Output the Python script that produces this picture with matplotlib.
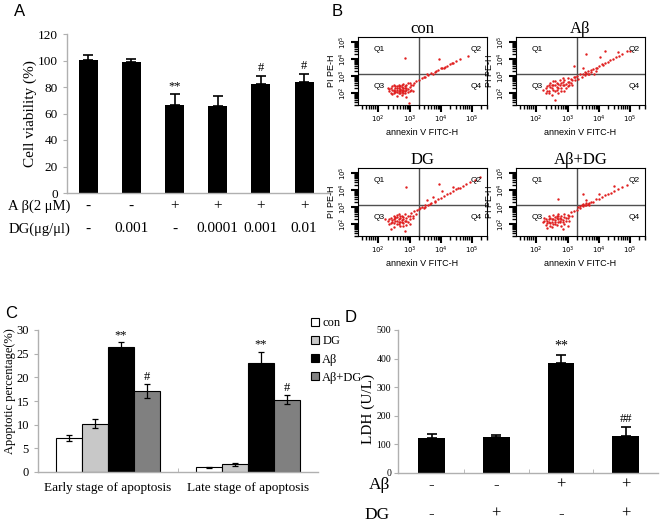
import numpy as np
import matplotlib
matplotlib.use("Agg")
import matplotlib.pyplot as plt
from matplotlib.patches import Patch
from matplotlib.ticker import LogLocator, NullFormatter
from matplotlib.transforms import blended_transform_factory

SERIF = "Liberation Serif"
SANS = "Liberation Sans"

# ---------------- data ----------------
# Panel A: cell viability
a_values = [100.3, 99.0, 66.3, 65.5, 82.4, 83.9]
a_errors = [4.2, 2.3, 8.3, 7.6, 5.8, 6.1]
a_abeta = ["-", "-", "+", "+", "+", "+"]
a_dg = ["-", "0.001", "-", "0.0001", "0.001", "0.01"]
a_marks = ["", "", "**", "", "#", "#"]

# Panel B: flow cytometry dot plots, (log10 annexin, log10 PI)
b_titles = ["con", "Aβ", "DG", "Aβ+DG"]
con_pts = [(2.35,2.1),(2.4,2.3),(2.45,1.95),(2.5,2.2),(2.5,2.45),(2.55,2.05),(2.6,2.3),(2.6,1.85),
           (2.65,2.15),(2.65,2.5),(2.7,2.0),(2.7,2.25),(2.75,2.35),(2.75,1.9),(2.8,2.15),(2.8,2.55),
           (2.85,2.0),(2.85,2.3),(2.9,2.2),(2.9,2.45),(2.95,2.05),(3.0,2.35),(3.0,2.6),(3.05,2.2),
           (3.1,2.45),(3.15,2.6),(3.2,2.7),(2.55,2.4),(2.45,2.2),(2.7,2.1),(2.8,2.3),(2.6,2.05),
           (2.75,2.2),(2.3,2.3),(2.9,1.8),(3.1,2.1),(2.4,2.0),(2.45,2.4),(2.5,2.1),(2.55,2.3),
           (2.6,2.2),(2.6,2.4),(2.65,2.0),(2.65,2.3),(2.7,2.4),(2.7,2.2),(2.75,2.05),(2.75,2.5),
           (2.8,2.2),(2.8,2.0),(2.85,2.4),(2.9,2.3),(2.95,2.25),(3.0,2.15),(2.5,2.0),(2.55,2.15),
           (2.85,2.15),(2.65,2.4),(2.35,2.25),(3.05,2.45),(2.95,2.6),
           (3.3,2.8),(3.4,2.9),(3.5,2.95),(3.6,3.05),(3.7,3.2),(3.8,3.25),(3.9,3.35),(4.0,3.45),
           (4.1,3.5),(4.2,3.6),(4.3,3.7),(4.4,3.8),(4.5,3.9),(4.6,4.0),(3.55,3.1),(3.85,3.3),
           (4.15,3.55),(3.45,2.95),(3.75,3.15),(4.05,3.5),(4.35,3.75),
           (2.84,4.06),(3.94,4.0),(4.87,4.18),(2.97,1.4)]
ab_pts = [(2.2,2.2),(2.3,2.0),(2.35,2.4),(2.4,2.15),(2.45,2.6),(2.5,1.9),(2.5,2.3),(2.55,2.5),
          (2.6,2.1),(2.6,2.7),(2.65,2.35),(2.7,2.55),(2.7,2.0),(2.75,2.8),(2.8,2.3),(2.8,2.6),
          (2.85,2.45),(2.9,2.75),(2.9,2.1),(2.95,2.55),(3.0,2.9),(3.0,2.4),(3.05,2.65),(3.1,2.85),
          (3.15,2.5),(3.2,2.95),(3.25,2.75),(3.3,3.0),(3.35,2.85),(3.4,3.1),(2.4,2.45),(2.65,2.2),
          (2.85,2.9),(2.3,2.3),(2.4,2.0),(2.45,2.35),(2.5,2.5),(2.55,2.2),(2.6,2.45),(2.65,2.6),
          (2.7,2.3),(2.75,2.45),(2.8,2.15),(2.85,2.65),(2.9,2.45),(2.95,2.3),(3.0,2.65),(3.05,2.45),
          (3.1,2.6),(3.15,2.8),(3.25,2.95),(2.55,2.7),(2.35,2.15),
          (3.45,2.95),(3.5,3.15),(3.55,3.05),(3.6,3.2),(3.65,3.3),(3.7,3.15),(3.75,3.35),(3.8,3.4),
          (3.9,3.5),(3.95,3.45),(4.0,3.6),(4.1,3.7),(4.2,3.75),(4.3,3.85),(4.35,3.95),(4.45,4.0),
          (4.55,4.1),(4.65,4.2),(4.75,4.3),(4.9,4.45),(5.0,4.5),(3.5,3.5),(4.05,4.1),(3.2,3.6),
          (4.6,4.4),(3.85,3.1),(3.55,3.25),(3.65,3.1),(3.75,3.25),(3.9,3.3),(4.15,3.65),
          (2.6,1.6),(3.6,4.3),(4.2,4.5)]
dg_pts = [(2.3,2.2),(2.35,2.0),(2.4,2.35),(2.45,2.1),(2.5,1.85),(2.5,2.45),(2.55,2.2),(2.6,2.0),
          (2.6,2.55),(2.65,2.3),(2.7,1.9),(2.7,2.15),(2.75,2.45),(2.8,2.05),(2.8,2.3),(2.85,2.6),
          (2.9,2.2),(2.9,1.95),(2.95,2.45),(3.0,2.3),(3.05,2.65),(3.1,2.5),(3.15,2.75),(3.2,2.6),
          (3.25,2.85),(2.55,2.4),(2.65,2.1),(2.75,2.25),(2.4,1.7),(2.85,1.6),(3.0,2.0),(2.2,2.3),
          (2.35,2.3),(2.45,2.25),(2.5,2.05),(2.55,2.35),(2.6,2.2),(2.6,2.4),(2.65,2.0),(2.7,2.35),
          (2.7,2.5),(2.75,2.1),(2.8,2.4),(2.85,2.2),(2.9,2.35),(2.95,2.15),(3.0,2.5),(3.1,2.35),
          (2.5,2.3),(2.65,2.6),(2.8,1.9),(2.4,2.05),
          (3.3,2.9),(3.4,3.0),(3.45,2.95),(3.5,3.1),(3.6,3.15),(3.7,3.25),(3.8,3.35),(3.9,3.5),
          (4.0,3.55),(4.1,3.65),(4.2,3.75),(4.3,3.85),(4.4,3.95),(4.5,4.05),(4.6,4.15),(4.7,4.25),
          (4.8,4.35),(4.95,4.5),(5.1,4.6),(5.25,4.75),(3.75,3.6),(4.05,3.95),(4.4,4.2),(3.55,3.4),
          (3.35,2.95),(3.5,3.0),(3.65,3.2),(3.8,3.3),(4.55,4.15),
          (2.9,4.2),(3.95,4.35)]
abdg_pts = [(2.2,2.1),(2.25,2.35),(2.3,1.95),(2.35,2.2),(2.4,2.5),(2.45,2.05),(2.5,2.3),(2.5,1.85),
            (2.55,2.55),(2.6,2.15),(2.6,2.4),(2.65,1.95),(2.7,2.3),(2.7,2.6),(2.75,2.1),(2.8,2.45),
            (2.8,1.9),(2.85,2.25),(2.9,2.6),(2.9,2.0),(2.95,2.35),(3.0,2.55),(3.05,2.2),(3.1,2.7),
            (3.15,2.5),(3.2,2.8),(2.4,2.3),(2.55,2.0),(2.65,2.5),(2.75,2.35),(2.35,1.8),(2.85,1.7),
            (3.0,1.9),(2.25,2.2),(2.3,2.3),(2.35,2.05),(2.4,2.15),(2.45,2.35),(2.5,2.15),(2.55,2.3),
            (2.6,2.0),(2.6,2.25),(2.65,2.35),(2.7,2.1),(2.7,2.45),(2.75,2.2),(2.8,2.3),(2.85,2.1),
            (2.9,2.4),(2.95,2.2),(3.0,2.35),(3.05,2.5),(2.45,1.9),
            (3.3,2.85),(3.35,3.0),(3.4,2.95),(3.45,3.1),(3.5,3.05),(3.55,3.15),(3.6,3.1),(3.65,3.2),
            (3.7,3.25),(3.8,3.3),(3.9,3.45),(4.0,3.5),(4.1,3.6),(4.2,3.7),(4.3,3.8),(4.4,3.85),
            (4.5,3.95),(4.6,4.05),(4.75,4.2),(4.9,4.3),(3.6,3.4),(4.0,3.8),(4.5,4.25),(3.4,3.05),
            (3.5,3.2),(3.6,3.25),(3.7,3.15),(3.75,3.3),
            (2.7,3.5),(3.5,3.8)]

# Panel C: apoptotic percentage
c_groups = ["Early stage of apoptosis", "Late stage of apoptosis"]
c_series = ["con", "DG", "Aβ", "Aβ+DG"]
c_values = [[7.2, 1.0], [10.2, 1.6], [26.4, 23.0], [17.1, 15.3]]
c_errors = [[0.7, 0.15], [1.0, 0.35], [1.1, 2.4], [1.4, 0.9]]
c_colors = ["#ffffff", "#c8c8c8", "#000000", "#808080"]
c_marks = ["", "", "**", "#"]

# Panel D: LDH
d_values = [121, 125, 386, 131]
d_errors = [15, 7, 26, 30]
d_abeta = ["-", "-", "+", "+"]
d_dg = ["-", "+", "-", "+"]
d_marks = ["", "", "**", "##"]

# ---------------- figure ----------------
W, H = 662, 523
fig = plt.figure(figsize=(W / 100, H / 100), dpi=100)
fig.patch.set_facecolor("white")


def rect(l, t, r, b):
    return [l / W, 1 - b / H, (r - l) / W, (b - t) / H]


def style_bar_axes(ax):
    for s in ["top", "right"]:
        ax.spines[s].set_visible(False)
    for s in ["left", "bottom"]:
        ax.spines[s].set_color("#b0b0b0")
        ax.spines[s].set_linewidth(1.0)
    ax.tick_params(axis="y", colors="#b0b0b0", labelcolor="black", length=3)


# ---- Panel A ----
axA = fig.add_axes(rect(67, 34, 330, 193))
xa = np.arange(len(a_values))
axA.bar(xa, a_values, width=0.44, color="black", zorder=2)
axA.errorbar(xa, a_values, yerr=[np.zeros(len(a_errors)), a_errors], fmt="none",
             ecolor="black", elinewidth=1.2, capsize=3.5, capthick=1.2, zorder=1)
axA.set_xlim(-0.49, 5.6)
axA.set_ylim(0, 120)
axA.set_yticks(np.arange(0, 121, 20))
style_bar_axes(axA)
axA.set_xticks([])
for lab in axA.get_yticklabels():
    lab.set_fontfamily(SERIF)
    lab.set_fontsize(9.5)
axA.set_ylabel("Cell viability (%)", fontfamily=SERIF, fontsize=11, labelpad=1)
for i, m in enumerate(a_marks):
    if m:
        axA.text(i, a_values[i] + a_errors[i] + 1.5, m, ha="center", va="bottom",
                 fontfamily=SERIF, fontsize=9)
trA = blended_transform_factory(axA.transData, fig.transFigure)
for i in range(len(a_values)):
    axA.text(i, 1 - 206 / H, a_abeta[i], transform=trA, ha="center", va="center",
             fontfamily=SERIF, fontsize=11)
    axA.text(i, 1 - 229 / H, a_dg[i], transform=trA, ha="center", va="center",
             fontfamily=SERIF, fontsize=11)
fig.text(70 / W, 1 - 206 / H, "A β(2 μM)", ha="right", va="center", fontfamily=SERIF, fontsize=10.5)
fig.text(70 / W, 1 - 229 / H, "DG(μg/μl)", ha="right", va="center", fontfamily=SERIF, fontsize=10.5)
fig.text(14 / W, 1 - 12 / H, "A", ha="left", va="center", fontfamily=SANS, fontsize=12)

# ---- Panel B ----
fig.text(332 / W, 1 - 12 / H, "B", ha="left", va="center", fontfamily=SANS, fontsize=12)
b_data = [con_pts, ab_pts, dg_pts, abdg_pts]
b_rects = [(358, 37, 487, 105), (516, 37, 645, 105), (358, 168, 487, 236), (516, 168, 645, 236)]
for k in range(4):
    l, t, r, b = b_rects[k]
    ax = fig.add_axes(rect(l, t, r, b))
    pts = np.array(b_data[k])
    ax.scatter(10 ** pts[:, 0], 10 ** pts[:, 1], s=3.0, color="#e02020",
               linewidths=0, zorder=2)
    ax.set_xscale("log")
    ax.set_yscale("log")
    ax.set_xlim(10 ** 1.35, 10 ** 5.48)
    ax.set_ylim(10 ** 1.3, 10 ** 5.3)
    ax.axvline(10 ** 3.3, color="#505050", lw=1.0, zorder=1)
    ax.axhline(10 ** 3.15, color="#505050", lw=1.0, zorder=1)
    for axis in (ax.xaxis, ax.yaxis):
        axis.set_major_locator(LogLocator(base=10, numticks=20))
        axis.set_minor_locator(LogLocator(base=10, subs=np.arange(2, 10), numticks=20))
        axis.set_minor_formatter(NullFormatter())
    ax.tick_params(which="major", direction="out", length=5, width=1.5,
                   color="black", labelsize=5, pad=1.5)
    ax.tick_params(which="minor", direction="out", length=3, width=1.0, color="black")
    for lab in ax.get_yticklabels():
        lab.set_rotation(90)
        lab.set_va("center")
    for s in ax.spines.values():
        s.set_linewidth(0.8)
    ax.set_xlabel("annexin V FITC-H", fontfamily=SANS, fontsize=6.5, labelpad=2)
    ax.set_ylabel("PI PE-H", fontfamily=SANS, fontsize=6.5, labelpad=1)
    ax.set_title(b_titles[k], fontfamily=SERIF, fontsize=12, pad=2)
    for txt, xx, yy, ha in [("Q1", 0.12, 0.82, "left"), ("Q2", 0.96, 0.82, "right"),
                            ("Q3", 0.12, 0.27, "left"), ("Q4", 0.96, 0.27, "right")]:
        ax.text(xx, yy, txt, transform=ax.transAxes, ha=ha, va="center",
                fontfamily=SANS, fontsize=6)

# ---- Panel C ----
axC = fig.add_axes(rect(38, 330, 318, 472))
xc = np.arange(len(c_groups))
bw = 0.184
for j in range(len(c_series)):
    off = (j - 1.5) * bw
    axC.bar(xc + off, c_values[j], width=bw, color=c_colors[j], edgecolor="black",
            linewidth=0.8, label=c_series[j], zorder=2)
    axC.errorbar(xc + off, c_values[j], yerr=c_errors[j], fmt="none", ecolor="black",
                 elinewidth=0.9, capsize=2.5, capthick=0.9, zorder=3)
    if c_marks[j]:
        for g in range(len(c_groups)):
            axC.text(xc[g] + off, c_values[j][g] + c_errors[j][g] + 0.2, c_marks[j],
                     ha="center", va="bottom", fontfamily=SERIF, fontsize=9)
axC.set_xlim(-0.5, 1.5)
axC.set_ylim(0, 30)
axC.set_yticks(np.arange(0, 31, 5))
style_bar_axes(axC)
axC.set_xticks(xc)
axC.set_xticklabels(c_groups, fontfamily=SERIF, fontsize=9.5)
axC.tick_params(axis="x", length=0, pad=7)
axC.set_xticks([0.5], minor=True)
axC.tick_params(axis="x", which="minor", length=3, direction="in", color="#b0b0b0")
for lab in axC.get_yticklabels():
    lab.set_fontfamily(SERIF)
    lab.set_fontsize(9)
axC.set_ylabel("Apoptotic percentage(%)", fontfamily=SERIF, fontsize=9)
axC.yaxis.set_label_coords(-0.078, 0.57)
handles = [Patch(facecolor=c_colors[j], edgecolor="black", linewidth=0.8) for j in range(4)]
fig.legend(handles, c_series, loc="upper left", bbox_to_anchor=(306 / W, 1 - 312 / H),
           frameon=False, prop={"family": SERIF, "size": 9}, handlelength=0.6,
           handleheight=0.6, handletextpad=0.3, labelspacing=0.5, borderaxespad=0)
fig.text(5 / W, 1 - 313 / H, "C", ha="left", va="center", fontfamily=SANS, fontsize=12)

# ---- Panel D ----
axD = fig.add_axes(rect(398, 330, 658, 473))
xd = np.arange(len(d_values))
axD.bar(xd, d_values, width=0.41, color="black", zorder=2)
axD.errorbar(xd, d_values, yerr=[np.zeros(len(d_errors)), d_errors], fmt="none",
             ecolor="black", elinewidth=1.2, capsize=3.5, capthick=1.2, zorder=1)
axD.set_xlim(-0.52, 3.5)
axD.set_ylim(0, 500)
axD.set_yticks(np.arange(0, 501, 100))
style_bar_axes(axD)
axD.set_xticks([])
axD.set_xticks([0.5, 1.5, 2.5], minor=True)
axD.tick_params(axis="x", which="minor", length=3, direction="in", color="#b0b0b0")
axD.tick_params(axis="y", pad=2)
for lab in axD.get_yticklabels():
    lab.set_fontfamily(SERIF)
    lab.set_fontsize(7)
axD.set_ylabel("LDH (U/L)", fontfamily=SERIF, fontsize=11)
axD.yaxis.set_label_coords(-0.09, 0.45)
for i, m in enumerate(d_marks):
    if m:
        axD.text(i, d_values[i] + d_errors[i] + 8, m, ha="center", va="bottom",
                 fontfamily=SERIF, fontsize=10 if m == "**" else 9)
trD = blended_transform_factory(axD.transData, fig.transFigure)
for i in range(len(d_values)):
    axD.text(i, 1 - 485 / H, d_abeta[i], transform=trD, ha="center", va="center",
             fontfamily=SERIF, fontsize=12)
    axD.text(i, 1 - 514 / H, d_dg[i], transform=trD, ha="center", va="center",
             fontfamily=SERIF, fontsize=12)
fig.text(390 / W, 1 - 485 / H, "Aβ", ha="right", va="center", fontfamily=SERIF, fontsize=12.5)
fig.text(390 / W, 1 - 515 / H, "DG", ha="right", va="center", fontfamily=SERIF, fontsize=12.5)
fig.text(345 / W, 1 - 318 / H, "D", ha="left", va="center", fontfamily=SANS, fontsize=12)

fig.savefig("out.png", dpi=100)
